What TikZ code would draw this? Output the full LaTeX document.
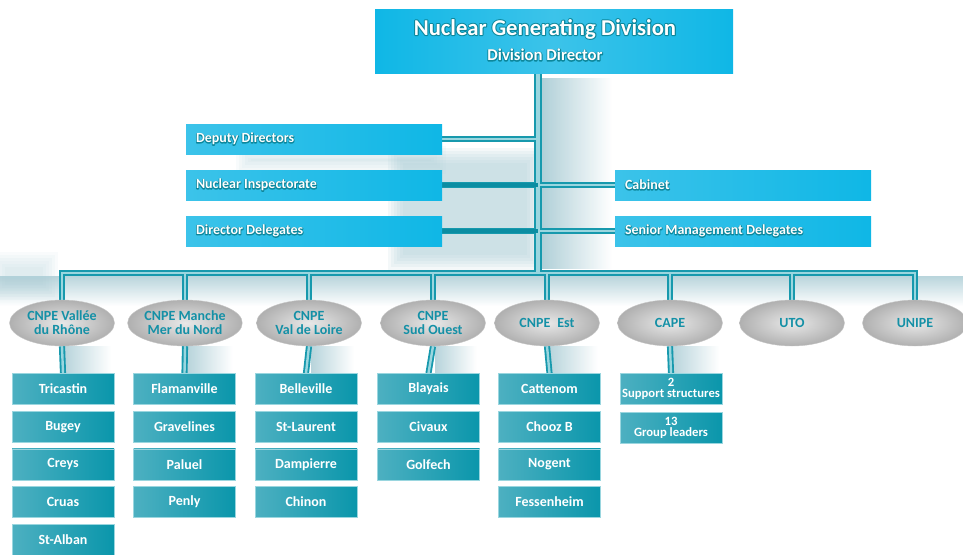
\documentclass[tikz,border=0pt]{standalone}
\usepackage{fontspec}
\setmainfont{Carlito}
\usetikzlibrary{shapes.geometric}

\definecolor{cyanbox}{HTML}{0FB7E6}
\definecolor{cyanlite}{HTML}{7FD5EF}
\definecolor{tealbox}{HTML}{0A96AB}
\definecolor{teallite}{HTML}{4DB0C1}
\definecolor{tealline}{HTML}{1799AD}
\definecolor{tealcore}{HTML}{9AD6DF}
\definecolor{tealdark}{HTML}{0B8DA2}
\definecolor{tealtext}{HTML}{1490A6}
\definecolor{shadowc}{HTML}{A7CAD3}

\pgfdeclarelayer{shadows}
\pgfdeclarelayer{links}
\pgfsetlayers{shadows,links,main}

% white lettering on a stroked teal rim: the rim is painted first, the fill on top
\newcommand\outl[2]{\rlap{\special{pdf:literal direct 1 Tr #1 w 1 j 0.05 0.53 0.61 RG}#2\special{pdf:literal direct 0 Tr}}#2}

% soft rectangular shadow built from stacked translucent layers
\newcommand\blurbox[5]{%
  \foreach \k in {0,...,5}
    \fill[shadowc, opacity=#5] (#1+\k*3, #2+\k*3) rectangle (#3-\k*3, #4-\k*3);}

\tikzset{
  headbox/.style={rectangle, inner sep=0pt, minimum width=268.5pt, minimum height=48pt,
    left color=cyanbox, right color=cyanbox, middle color=cyanlite!40!cyanbox,
    shading angle=90},
  staffbox/.style={rectangle, inner sep=0pt, minimum width=192pt, minimum height=22.5pt,
    left color=cyanlite!40!cyanbox, right color=cyanbox},
  stafftext/.style={anchor=west, text=white, inner sep=0pt,
    font=\fontsize{10.5}{11}\selectfont\bfseries},
  unitell/.style={ellipse, inner sep=0pt, minimum width=78.75pt, minimum height=34.5pt,
    inner color=gray!18, outer color=gray!62, draw=gray!45, line width=0.3pt,
    text=tealtext, align=center, font=\fontsize{10.5}{10.5}\selectfont\bfseries},
  sitebox/.style={rectangle, inner sep=0pt, minimum width=76.5pt, minimum height=23.25pt,
    left color=teallite, right color=tealbox, draw=tealcore, line width=0.5pt,
    text=white, align=center, font=\fontsize{10.5}{11}\selectfont\bfseries},
  smallsite/.style={sitebox, font=\fontsize{9.5}{8}\selectfont\bfseries},
  linkout/.style={draw=tealline, line width=4.6pt},
  linkin/.style={draw=tealcore, line width=1.8pt},
  solidin/.style={draw=tealdark, line width=2.6pt},
  trunkout/.style={draw=tealline, line width=6pt},
  trunkin/.style={draw=tealcore, line width=2.4pt},
}

\begin{document}
\begin{tikzpicture}[x=0.75pt, y=-0.75pt]
\useasboundingbox (0,0) rectangle (963,554);

% head of the division
\node[headbox] (head) at (554,41) {};
\node[text=white, inner sep=0pt, font=\fontsize{17}{17}\selectfont\bfseries] (headt1) at (545,29) {\outl{1.5}{Nuclear Generating Division}};
\node[text=white, inner sep=0pt, font=\fontsize{12.5}{13}\selectfont\bfseries] (headt2) at (545,55) {\outl{1.3}{Division Director}};

\coordinate (tt) at (538,73);
\coordinate (hub) at (538,273);

% staff functions
\node[staffbox] (dep) at (314,139) {};
\node[staffbox] (insp) at (314,185) {};
\node[staffbox] (deleg) at (314,231) {};
\node[staffbox] (cab) at (743,185) {};
\node[staffbox] (smd) at (743,231) {};
\foreach \n/\t in {dep/Deputy Directors, insp/Nuclear Inspectorate, deleg/Director Delegates,
                   cab/Cabinet, smd/Senior Management Delegates}
  \node[stafftext] (\n t) at ([xshift=7.5pt]\n.west) {\outl{1.1}{\t}};

% operating units
\node[unitell] (e1) at (62,323) {CNPE Vallée\\du Rhône};
\node[unitell] (e2) at (185,323) {CNPE Manche\\Mer du Nord};
\node[unitell] (e3) at (309,323) {CNPE\\Val de Loire};
\node[unitell] (e4) at (433,323) {CNPE\\Sud Ouest};
\node[unitell] (e5) at (547,323) {CNPE\enspace Est};
\node[unitell] (e6) at (670,323) {CAPE};
\node[unitell] (e7) at (792,323) {UTO};
\node[unitell] (e8) at (915,323) {UNIPE};

% sites
\foreach \c/\x/\names in {
    1/63/{Tricastin,Bugey,Creys,Cruas,St-Alban},
    2/184.5/{Flamanville,Gravelines,Paluel,Penly},
    3/306/{Belleville,St-Laurent,Dampierre,Chinon},
    4/428.5/{Blayais,Civaux,Golfech},
    5/549.5/{Cattenom,Chooz B,Nogent,Fessenheim}}{
  \foreach \s [count=\r] in \names
    \node[sitebox] (b\c\r) at (\x, 389+37.7*\r-37.7) {\s};
}
\node[smallsite] (b61) at (671,389) {2\\Support structures};
\node[smallsite] (b62) at (671,427.5) {13\\Group leaders};

% soft drop shadows
\begin{pgfonlayer}{shadows}
  \shade[left color=shadowc, right color=white, opacity=0.9] (541,78) rectangle (612,268);
  \blurbox{388}{148}{542}{270}{0.13}
  \blurbox{236}{146}{446}{174}{0.08}
  \shade[top color=shadowc, bottom color=white, opacity=0.8] (0,276) rectangle (963,306);
  \blurbox{-10}{252}{58}{300}{0.07}
  \foreach \c in {1,...,6}
    \shade[left color=shadowc, right color=white, opacity=0.8]
      ([xshift=2pt]e\c.south) rectangle ([xshift=36pt]b\c1.north);
\end{pgfonlayer}

% connectors: teal rim first, core on top
\begin{pgfonlayer}{links}
  \foreach \rim/\core/\solid in {linkout/trunkout/linkout, linkin/trunkin/solidin}{
    \draw[\core] (tt) -- (hub);
    \draw[\rim] (e1.north) |- (hub) -| (e8.north);
    \foreach \i in {2,...,7}
      \draw[\rim] (e\i.north |- hub) -- (e\i.north);
    \draw[\rim] (dep.east) -- (dep.east -| tt);
    \foreach \n in {insp,deleg}
      \draw[\solid] (\n.east) -- (\n.east -| tt);
    \foreach \n in {cab,smd}
      \draw[\rim] (\n.west) -- (\n.west -| tt);
    \foreach \c in {1,...,6}
      \draw[\rim] (e\c.south) -- (b\c1.north);
  }
\end{pgfonlayer}
\end{tikzpicture}
\end{document}
